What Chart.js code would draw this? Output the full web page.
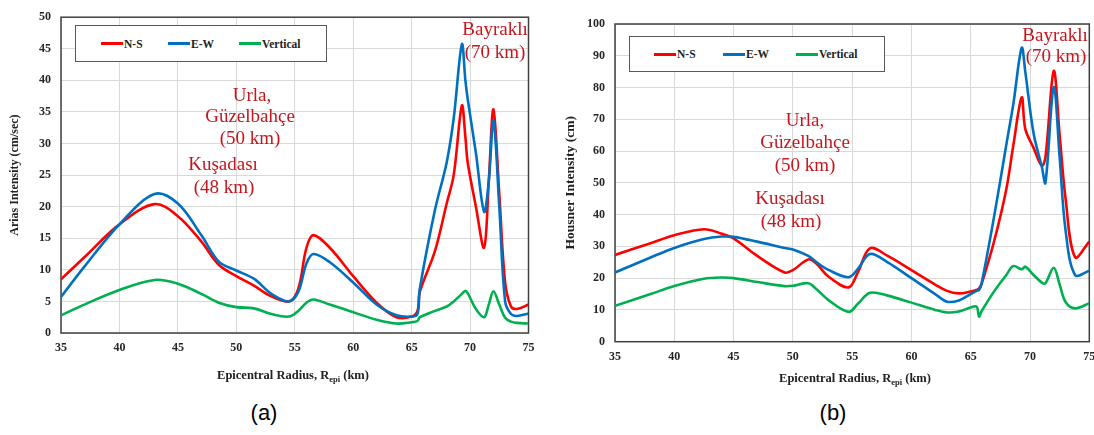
<!DOCTYPE html>
<html>
<head>
<meta charset="utf-8">
<script src="https://cdn.jsdelivr.net/npm/chart.js@4.4.0/dist/chart.umd.min.js"></script>
<style>
  body { margin: 0; width: 1094px; height: 435px; overflow: hidden; background: #fff; position: relative; font-family: "Liberation Serif", serif; }
  canvas { position: absolute; top: 0; }
  #chartA { left: 0; }
  #chartB { left: 548px; }
  .legend { position: absolute; border: 1px solid #595959; background: #fff; box-sizing: border-box; }
  .legend .item { position: absolute; top: 50%; transform: translateY(-50%); font: bold 11.5px "Liberation Serif", serif; color: #222; display: flex; align-items: center; white-space: nowrap; }
  .legend i { display: inline-block; width: 22px; height: 3px; margin-right: 1px; }
  .note { position: absolute; color: #c4161c; font-size: 19px; transform: translate(-50%, -50%); white-space: nowrap; line-height: 1; }
  .xtitle { position: absolute; font: bold 12.5px "Liberation Serif", serif; color: #222; transform: translate(-50%, -50%); white-space: nowrap; }
  .panel { position: absolute; font: 22px "Liberation Sans", sans-serif; color: #000; transform: translate(-50%, -50%); }
</style>
</head>
<body>
<canvas id="chartA" width="545" height="395"></canvas>
<canvas id="chartB" width="560" height="395"></canvas>

<div class="legend" id="legendA" style="left:75px; top:25px; width:252px; height:37px;"></div>
<div class="legend" id="legendB" style="left:629px; top:36px; width:256px; height:36px;"></div>

<!-- panel (a) notes -->
<div class="note" style="left:252px; top:94px;">Urla,</div>
<div class="note" style="left:250px; top:115px;">Güzelbahçe</div>
<div class="note" style="left:250px; top:137px;">(50 km)</div>
<div class="note" style="left:223px; top:163px;">Kuşadası</div>
<div class="note" style="left:224px; top:186px;">(48 km)</div>
<div class="note" style="left:495px; top:28px;">Bayraklı</div>
<div class="note" style="left:495px; top:51px;">(70 km)</div>

<!-- panel (b) notes -->
<div class="note" style="left:805px; top:119px;">Urla,</div>
<div class="note" style="left:805px; top:141px;">Güzelbahçe</div>
<div class="note" style="left:805px; top:164px;">(50 km)</div>
<div class="note" style="left:790px; top:197px;">Kuşadası</div>
<div class="note" style="left:791px; top:220px;">(48 km)</div>
<div class="note" style="left:1055px; top:34px;">Bayraklı</div>
<div class="note" style="left:1056px; top:55px;">(70 km)</div>

<div class="xtitle" style="left:293px; top:376px;">Epicentral Radius, R<sub style="font-size:8.5px;">epi</sub> (km)</div>
<div class="xtitle" style="left:855px; top:379px;">Epicentral Radius, R<sub style="font-size:8.5px;">epi</sub> (km)</div>

<div class="panel" style="left:264px; top:413px;">(a)</div>
<div class="panel" style="left:833px; top:413px;">(b)</div>

<script>
  // Series names and colours
  const seriesNames = ['N-S', 'E-W', 'Vertical'];
  const seriesColors = ['#ff0000', '#0070c0', '#00b050'];

  // (a) Arias intensity (cm/sec)
  const ariasRadius = [35, 37, 40, 43, 45, 47, 48.5, 50, 51.5, 53, 54.5, 55.3, 56, 56.6, 58, 60, 62, 63.7, 65, 65.5, 65.7,
                       67, 68, 68.6, 69.3, 69.6, 69.8, 70.5, 71.2, 71.6, 72.0, 72.5, 73.0, 73.5, 74, 75];
  const ariasNS = [8.5, 12, 17.2, 20.4, 18.5, 14.5, 10.8, 9.0, 7.5, 5.8, 5.0, 7.0, 13.5, 15.5, 13.5, 9, 4.8, 2.5, 2.6, 3.5, 6.5,
                   13, 20.5, 25, 36, 31, 27, 20, 13.5, 24, 35.4, 22, 8, 4.2, 3.8, 4.5];
  const ariasEW = [5.7, 10.5, 17.2, 22, 20.5, 15.5, 11.3, 9.9, 8.6, 6.2, 5.0, 6.5, 11, 12.5, 11.2, 8.0, 4.5, 2.8, 2.6, 3, 7,
                   19.5, 27, 34, 45.7, 40, 37, 28.5, 19.2, 24, 33.6, 20, 5, 3, 2.7, 3.1];
  const ariasV = [2.8, 4.5, 6.8, 8.4, 7.8, 6.2, 4.8, 4.1, 3.9, 3.0, 2.6, 3.5, 4.8, 5.3, 4.5, 3.3, 2.1, 1.5, 1.7, 1.9, 2.5,
                  3.5, 4.2, 5, 6.2, 6.7, 6.3, 3.8, 2.5, 4.5, 6.6, 4.5, 2.4, 1.8, 1.6, 1.5];

  // (b) Housner intensity (cm)
  const housnerRadius = [35, 38, 40, 42.5, 44, 45, 47, 49.3, 50, 51.3, 52, 53, 54.7, 55.5, 56.5, 58, 60, 62, 63, 64, 65,
                         65.5, 65.7, 65.9, 67, 68, 68.6, 69.3, 69.6, 70.3, 71, 71.3, 72, 72.5, 73, 73.8, 75];
  const housnerNS = [27.3, 31, 33.5, 35.4, 34, 32.5, 27, 21.8, 22.5, 25.9, 24.5, 20.5, 17.1, 22, 29.4, 27, 22.5, 18, 16, 15.2, 15.8,
                     16.3, 16.8, 18, 32, 48, 62, 76.9, 67, 61, 55.4, 58, 85.2, 65, 45, 26.6, 31.5];
  const housnerEW = [21.8, 26.5, 29.5, 32.3, 33.1, 33, 31.5, 29.5, 29, 27, 25, 22.6, 20.3, 23, 27.6, 25, 20, 15, 12.6, 13, 15,
                     16, 16.3, 18, 40, 62, 75, 92.5, 85, 65.6, 55, 50, 80.1, 58, 35, 21, 22.3];
  const housnerV = [11.3, 15, 17.5, 19.8, 20.2, 20, 18.8, 17.5, 17.6, 18.4, 16.5, 13.1, 9.4, 12, 15.4, 14.5, 12.3, 10, 9.2, 9.5, 10.8,
                    11, 7.9, 9.5, 16, 21, 23.8, 22.8, 23.6, 21, 18.6, 18.4, 23.3, 18, 12.5, 10.5, 12.1];

  const xTicks = [35, 40, 45, 50, 55, 60, 65, 70, 75];

  // draw the dark frame round the plot area
  const framePlugin = {
    id: 'frame',
    beforeDatasetsDraw(chart) {
      const { ctx, chartArea: { left, top, right, bottom } } = chart;
      ctx.save();
      ctx.strokeStyle = '#404040';
      ctx.lineWidth = 1.5;
      ctx.strokeRect(left, top, right - left, bottom - top);
      ctx.restore();
    }
  };

  function makeChart(id, radius, values, yMax, yStep, yTitle, box) {
    const ctx = document.getElementById(id).getContext('2d');
    return new Chart(ctx, {
      type: 'line',
      data: {
        datasets: values.map((vals, i) => ({
          label: seriesNames[i],
          data: radius.map((r, k) => ({ x: r, y: vals[k] })),
          borderColor: seriesColors[i],
          backgroundColor: seriesColors[i],
          borderWidth: 2.6,
          pointRadius: 0,
          tension: 0.35,
          fill: false
        })).reverse()
      },
      options: {
        responsive: false,
        animation: false,
        layout: { padding: { left: 0, top: box.top, right: box.right, bottom: 0 } },
        plugins: { legend: { display: false }, tooltip: { enabled: false } },
        scales: {
          x: {
            type: 'linear',
            min: 35,
            max: 75,
            afterFit: (scale) => { scale.height = box.xHeight; },
            afterBuildTicks: (scale) => { scale.ticks = xTicks.map(v => ({ value: v })); },
            grid: { color: '#d9d9d9', drawTicks: false },
            border: { display: false },
            ticks: { padding: 8, color: '#262626', font: { family: 'Liberation Serif', weight: 'bold', size: 12 } }
          },
          y: {
            min: 0,
            max: yMax,
            afterFit: (scale) => { scale.width = box.yWidth; },
            grid: { color: '#d9d9d9', drawTicks: false },
            border: { display: false },
            ticks: { stepSize: yStep, padding: 10, color: '#262626', font: { family: 'Liberation Serif', weight: 'bold', size: 12 } },
            title: {
              display: true,
              text: yTitle,
              color: '#222',
              padding: { top: box.titlePad, bottom: 0 },
              font: { family: 'Liberation Serif', weight: 'bold', size: box.titleSize }
            }
          }
        }
      },
      plugins: [framePlugin]
    });
  }

  function buildLegend(id, offsets) {
    const el = document.getElementById(id);
    seriesNames.forEach((name, i) => {
      const item = document.createElement('span');
      item.className = 'item';
      item.style.left = offsets[i] + 'px';
      item.innerHTML = `<i style="background:${seriesColors[i]}"></i>${name}`;
      el.appendChild(item);
    });
  }

  makeChart('chartA', ariasRadius, [ariasNS, ariasEW, ariasV], 50, 5, 'Arias Intensity (cm/sec)',
            { top: 13, right: 16.5, xHeight: 62, yWidth: 61, titlePad: 8, titleSize: 12 });
  makeChart('chartB', housnerRadius, [housnerNS, housnerEW, housnerV], 100, 10, 'Housner Intensity (cm)',
            { top: 24, right: 18.7, xHeight: 53.3, yWidth: 67, titlePad: 14, titleSize: 13.5 });

  buildLegend('legendA', [25, 92, 163]);
  buildLegend('legendB', [24, 93, 166]);
</script>
</body>
</html>
